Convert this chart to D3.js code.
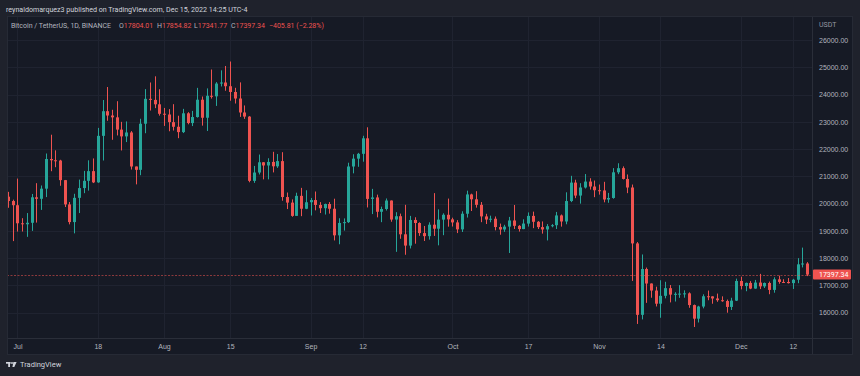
<!DOCTYPE html>
<html>
<head>
<meta charset="utf-8">
<script src="https://cdn.jsdelivr.net/npm/d3@7"></script>
<style>
  html, body { margin: 0; padding: 0; background: #1f222c; }
  svg { display: block; font-family: Roboto, "Noto Sans", sans-serif; }
</style>
</head>
<body>
<svg id="chart"></svg>
<script>
// BTC / USDT daily candles, Jun 29 - Dec 15 2022 (one value per day)
const startDay = '2022-06-29';

const opens = [
  20254, 20095,
  19942, 19279, 19243, 19297, 20232, 20176, 20548, 21637, 21590, 21580,
  20861, 19971, 19323, 20212, 20570, 20836, 21191, 20779, 22485, 23389,
  23231, 23164, 22714, 22465, 22609, 21361, 21239, 22930, 23843, 23804, 23642,
  23296, 23268, 22988, 22818, 22622, 23312, 22954, 23175, 23810, 23149,
  23954, 23934, 24403, 24441, 24305, 24094, 23854, 23342, 23191, 20834,
  21140, 21516, 21399, 21529, 21368, 21559, 20241, 20037, 19550, 20285, 19812,
  20050, 20131, 19951, 19832, 19986, 19812, 18837, 19291, 19320, 21361,
  21649, 21826, 22395, 20173, 20227, 19701, 19803, 20113, 19416, 19538,
  18875, 18461, 19401, 19289, 18920, 18807, 19227, 19080, 19413, 19591,
  19423, 19311, 19056, 19629, 20337, 20159, 19955, 19531, 19417, 19446,
  19141, 19051, 19157, 19382, 19185, 19067, 19268, 19550, 19334, 19139,
  19053, 19172, 19208, 19567, 19345, 20095, 20771, 20295, 20591, 20809, 20627,
  20491, 20483, 20151, 20207, 21148, 21299, 20905, 20591, 18541, 15922,
  17601, 17070, 16812, 16330, 16619, 16900, 16663, 16692, 16700, 16710,
  16280, 15781, 16226, 16603, 16598, 16522, 16458, 16428, 16212, 16442,
  17163, 16977, 17092, 16885, 17105, 16966, 17089, 16836, 17224, 17128,
  17127, 17085, 17209, 17774, 17804.01
];

const highs = [
  20432, 20145,
  20918, 19466, 19654, 20354, 20750, 20665, 21838, 22527, 21954, 21607,
  20868, 20059, 20361, 20881, 21200, 21588, 21657, 22777, 23800, 24276,
  23441, 23756, 22999, 23014, 22660, 21361, 23112, 24199, 24442, 24668, 24194,
  23509, 23466, 23647, 23223, 23475, 23354, 23400, 24245, 23928, 24226,
  24918, 24456, 24888, 25047, 25211, 24247, 24446, 23600, 23208, 21382,
  21800, 21522, 21664, 21900, 21819, 21886, 20407, 20155, 20400, 20578, 20490,
  20208, 20444, 20055, 20000, 20057, 20180, 19464, 19458, 21500, 21810,
  21860, 22488, 22799, 20541, 20330, 19890, 20189, 20117, 19686, 19634,
  19956, 19550, 19500, 19316, 19180, 19315, 20385, 19790, 19645, 20185,
  19484, 19395, 19719, 20475, 20365, 20456, 20058, 19627, 19558, 19529,
  19268, 19224, 19513, 19951, 19212, 19425, 19677, 19706, 19360, 19347,
  19250, 19248, 19695, 19601, 20415, 21020, 20876, 20750, 21085, 20931, 20847,
  20700, 20800, 20393, 21302, 21480, 21365, 21069, 20700, 18591, 18136,
  17655, 17074, 16954, 17190, 17134, 17015, 16750, 17011, 16820, 16746,
  16300, 16253, 16674, 16812, 16601, 16701, 16600, 16482, 16548, 17249,
  17320, 17105, 17159, 17202, 17424, 17107, 17142, 17299, 17360, 17227,
  17271, 17241, 18000, 18387, 17854.82
];

const lows = [
  19848, 18626,
  18975, 18977, 18782, 19000, 19305, 19770, 20240, 21189, 21336, 20655,
  19875, 19240, 18910, 19654, 20383, 20478, 20754, 20762, 21581, 23038,
  22341, 22500, 21950, 22257, 21250, 20706, 21042, 22582, 23414, 23502, 23227,
  22850, 22654, 22681, 22400, 22588, 22909, 22844, 23154, 22860, 22664,
  23852, 23583, 24296, 24140, 23773, 23671, 23180, 23108, 20783, 20761,
  21069, 20890, 20890, 21145, 21310, 20107, 19801, 19520, 19550, 19540, 19797,
  19565, 19754, 19655, 19600, 19633, 18650, 18510, 19011, 19291, 21111,
  21350, 21538, 19860, 19617, 19497, 19320, 19748, 19335, 18232, 18711,
  18125, 18356, 18531, 18817, 18630, 18680, 18816, 18471, 18843, 19155,
  19160, 18920, 18959, 19490, 19730, 19853, 19320, 19252, 19316, 19020,
  18860, 18965, 18190, 19070, 18975, 19063, 19159, 19100, 19068, 18900,
  18650, 19132, 19070, 19157, 19243, 20055, 20200, 20000, 20554, 20515, 20237,
  20330, 20048, 20031, 20180, 21080, 20886, 20384, 17166, 15588, 15754,
  16361, 16549, 16229, 15815, 16527, 16378, 16410, 16546, 16550, 16180,
  15476, 15642, 16160, 16458, 16329, 16400, 16400, 16000, 16100, 16428,
  16855, 16788, 16863, 16878, 16867, 16906, 16678, 16733, 17061, 17091,
  17071, 16871, 17082, 17660, 17341.77
];

const closes = [
  20095, 19942,
  19279, 19243, 19297, 20232, 20176, 20548, 21637, 21590, 21580, 20861,
  19971, 19323, 20212, 20570, 20836, 21191, 20779, 22485, 23389, 23231,
  23164, 22714, 22465, 22609, 21361, 21239, 22930, 23843, 23804, 23642, 23293,
  23268, 22988, 22818, 22622, 23312, 22954, 23175, 23810, 23149, 23954,
  23934, 24403, 24441, 24305, 24094, 23854, 23342, 23191, 20834, 21140,
  21516, 21399, 21529, 21368, 21559, 20241, 20037, 19550, 20285, 19812, 20050,
  20131, 19951, 19832, 19986, 19812, 18837, 19291, 19320, 21361, 21649,
  21826, 22395, 20173, 20226, 19701, 19803, 20113, 19416, 19538, 18875,
  18461, 19401, 19289, 18920, 18807, 19227, 19080, 19413, 19591, 19423,
  19311, 19056, 19629, 20337, 20159, 19955, 19531, 19417, 19446, 19141,
  19051, 19157, 19382, 19185, 19067, 19268, 19550, 19334, 19139, 19053,
  19172, 19208, 19567, 19345, 20095, 20771, 20295, 20591, 20809, 20627, 20491,
  20483, 20151, 20207, 21148, 21299, 20905, 20591, 18541, 15922, 17601,
  17070, 16812, 16330, 16619, 16900, 16663, 16692, 16700, 16710, 16280,
  15781, 16226, 16603, 16598, 16522, 16458, 16428, 16212, 16442, 17163,
  16977, 17092, 16885, 17105, 16966, 17089, 16836, 17224, 17128, 17127,
  17085, 17209, 17774, 17804, 17397.34
];

const priceTicks = [16000, 17000, 18000, 19000, 20000, 21000, 22000, 23000, 24000, 25000, 26000];
const timeTickDates = ['2022-07-01', '2022-07-18', '2022-08-01', '2022-08-15', '2022-09-01', '2022-09-12',
                       '2022-10-01', '2022-10-17', '2022-11-01', '2022-11-14', '2022-12-01', '2022-12-12'];
const timeTickLabels = ['Jul', '18', 'Aug', '15', 'Sep', '12', 'Oct', '17', 'Nov', '14', 'Dec', '12'];

const lastPrice = 17397.34;
const legendValues = [['O', '17804.01'], ['H', '17854.82'], ['L', '17341.77'], ['C', '17397.34']];
const legendChange = '\u2212405.81 (\u22122.28%)';

class CandleChart {

  constructor(_config, _data) {
    this.config = {
      parentElement: _config.parentElement,
      containerWidth: _config.containerWidth || 860,
      containerHeight: _config.containerHeight || 376,
      panel: {left: 7, top: 16, right: 853, bottom: 355},
      plotRight: 812,
      plotBottom: 338
    };
    this.data = _data;
    this.initVis();
  }

  initVis() {
    let vis = this;
    const c = vis.config;

    vis.svg = d3.select(c.parentElement)
        .attr('width', c.containerWidth)
        .attr('height', c.containerHeight);

    // outer frame + chart panel
    vis.svg.append('rect')
        .attr('width', c.containerWidth)
        .attr('height', c.containerHeight)
        .attr('fill', '#1f222c');

    vis.svg.append('rect')
        .attr('x', c.panel.left)
        .attr('y', c.panel.top)
        .attr('width', c.panel.right - c.panel.left)
        .attr('height', c.panel.bottom - c.panel.top)
        .attr('fill', '#161a25');

    vis.xScale = d3.scaleUtc()
        .domain([new Date(startDay), new Date('2022-12-15')])
        .range([8, 807]);

    vis.yScale = d3.scaleLinear()
        .domain([16000, 26000])
        .range([312.7, 40]);

    vis.svg.append('defs').append('clipPath')
        .attr('id', 'plot-clip')
      .append('rect')
        .attr('x', c.panel.left)
        .attr('y', c.panel.top)
        .attr('width', c.plotRight - c.panel.left)
        .attr('height', c.plotBottom - c.panel.top);

    vis.gridG = vis.svg.append('g').attr('class', 'grid');
    vis.plotG = vis.svg.append('g').attr('clip-path', 'url(#plot-clip)');

    vis.yAxis = d3.axisRight(vis.yScale)
        .tickValues(priceTicks)
        .tickFormat(d3.format('.2f'))
        .tickSize(0)
        .tickPadding(0);

    vis.xAxis = d3.axisBottom(vis.xScale)
        .tickValues(timeTickDates.map(d => new Date(d)))
        .tickFormat((d, i) => timeTickLabels[i])
        .tickSize(0)
        .tickPadding(6);

    vis.yAxisG = vis.svg.append('g')
        .attr('transform', `translate(819,0)`);

    vis.xAxisG = vis.svg.append('g')
        .attr('transform', `translate(0,${c.plotBottom})`);

    // separators between plot and axes
    vis.svg.append('line')
        .attr('x1', c.plotRight + 0.5).attr('x2', c.plotRight + 0.5)
        .attr('y1', c.panel.top).attr('y2', c.panel.bottom)
        .attr('stroke', '#2a2e39');
    vis.svg.append('line')
        .attr('x1', c.panel.left).attr('x2', c.panel.right)
        .attr('y1', c.plotBottom + 0.5).attr('y2', c.plotBottom + 0.5)
        .attr('stroke', '#2a2e39');
    vis.svg.append('rect')
        .attr('x', c.panel.left + 0.5)
        .attr('y', c.panel.top + 0.5)
        .attr('width', c.panel.right - c.panel.left - 1)
        .attr('height', c.panel.bottom - c.panel.top - 1)
        .attr('fill', 'none')
        .attr('stroke', '#262a35');

    vis.updateVis();
  }

  updateVis() {
    let vis = this;
    vis.xValue = d => d.date;
    vis.renderVis();
  }

  renderVis() {
    let vis = this;
    const c = vis.config;

    // grid
    vis.gridG.selectAll('.hgrid')
      .data(priceTicks)
      .join('line')
        .attr('class', 'hgrid')
        .attr('x1', c.panel.left)
        .attr('x2', c.plotRight)
        .attr('y1', d => Math.round(vis.yScale(d)) + 0.5)
        .attr('y2', d => Math.round(vis.yScale(d)) + 0.5)
        .attr('stroke', '#1f2330');

    vis.gridG.selectAll('.vgrid')
      .data(timeTickDates.map(d => new Date(d)))
      .join('line')
        .attr('class', 'vgrid')
        .attr('x1', d => Math.round(vis.xScale(d)) + 0.5)
        .attr('x2', d => Math.round(vis.xScale(d)) + 0.5)
        .attr('y1', c.panel.top)
        .attr('y2', c.plotBottom)
        .attr('stroke', '#1f2330');

    const up = '#26a69a', down = '#ef5350';
    const colour = d => d.close >= d.open ? up : down;

    const candles = vis.plotG.selectAll('.candle')
      .data(vis.data)
      .join('g')
        .attr('class', 'candle');

    candles.append('rect')
        .attr('x', d => Math.round(vis.xScale(d.date)))
        .attr('width', 1)
        .attr('y', d => vis.yScale(d.high))
        .attr('height', d => Math.max(1, vis.yScale(d.low) - vis.yScale(d.high)))
        .attr('fill', colour);

    candles.append('rect')
        .attr('x', d => Math.round(vis.xScale(d.date)) - 1)
        .attr('width', 3)
        .attr('y', d => vis.yScale(Math.max(d.open, d.close)))
        .attr('height', d => Math.max(1, Math.abs(vis.yScale(d.open) - vis.yScale(d.close))))
        .attr('fill', colour);

    // last price line
    const yLast = vis.yScale(lastPrice);
    vis.plotG.append('line')
        .attr('x1', c.panel.left)
        .attr('x2', c.plotRight)
        .attr('y1', Math.round(yLast) + 0.5)
        .attr('y2', Math.round(yLast) + 0.5)
        .attr('stroke', down)
        .attr('stroke-opacity', 0.55)
        .attr('stroke-dasharray', '2,1.5');

    // axes
    vis.yAxisG.call(vis.yAxis);
    vis.xAxisG.call(vis.xAxis);
    [vis.yAxisG, vis.xAxisG].forEach(g => {
      g.select('.domain').remove();
      g.selectAll('text')
          .style('font-size', '7px')
          .attr('fill', '#b2b5be');
    });

    vis.svg.append('text')
        .attr('x', 819)
        .attr('y', 26.5)
        .attr('font-size', '7px')
        .attr('fill', '#9598a1')
        .text('USDT');

    // last price label
    vis.svg.append('rect')
        .attr('x', c.plotRight + 1)
        .attr('y', yLast - 5)
        .attr('width', 38)
        .attr('height', 10)
        .attr('rx', 1)
        .attr('fill', down);
    vis.svg.append('text')
        .attr('x', 819)
        .attr('y', yLast)
        .attr('dy', '0.35em')
        .attr('font-size', '7px')
        .attr('fill', '#ffffff')
        .text(lastPrice.toFixed(2));

    // header
    vis.svg.append('text')
        .attr('x', 6)
        .attr('y', 9.5)
        .attr('dy', '0.35em')
        .attr('font-size', '7.1px')
        .attr('fill', '#d1d4dc')
        .text('reynaldomarquez3 published on TradingView.com, Dec 15, 2022 14:25 UTC-4');

    // legend
    const legend = vis.svg.append('text')
        .attr('x', 11)
        .attr('y', 25.3)
        .attr('dy', '0.35em')
        .attr('font-size', '7px')
        .attr('fill', '#b2b5be');
    legend.append('tspan').text('Bitcoin / TetherUS, 1D, BINANCE');
    const legendX = [119, 157, 194, 231];
    legendValues.forEach(([k, v], i) => {
      legend.append('tspan').attr('x', legendX[i]).text(k);
      legend.append('tspan').attr('fill', down).text(v);
    });
    legend.append('tspan').attr('x', 269).attr('fill', down).text(legendChange);

    // TradingView footer mark
    const logo = vis.svg.append('g').attr('fill', '#d1d4dc');
    logo.append('rect').attr('x', 6).attr('y', 362).attr('width', 4.6).attr('height', 1.7);
    logo.append('rect').attr('x', 8.2).attr('y', 362).attr('width', 1.8).attr('height', 5);
    logo.append('circle').attr('cx', 12).attr('cy', 363).attr('r', 0.95);
    logo.append('path').attr('d', 'M13.4,362 L16.6,362 L14.3,367 L12.4,367 Z');
    vis.svg.append('text')
        .attr('x', 20)
        .attr('y', 364.5)
        .attr('dy', '0.35em')
        .attr('font-size', '7.5px')
        .attr('fill', '#d1d4dc')
        .text('TradingView');
  }
}

const dayMs = 864e5;
const t0 = new Date(startDay).getTime();
const candleData = closes.map((cl, i) => ({
  date: new Date(t0 + i * dayMs),
  open: opens[i],
  high: highs[i],
  low: lows[i],
  close: cl
}));

new CandleChart({parentElement: '#chart'}, candleData);
</script>
</body>
</html>
